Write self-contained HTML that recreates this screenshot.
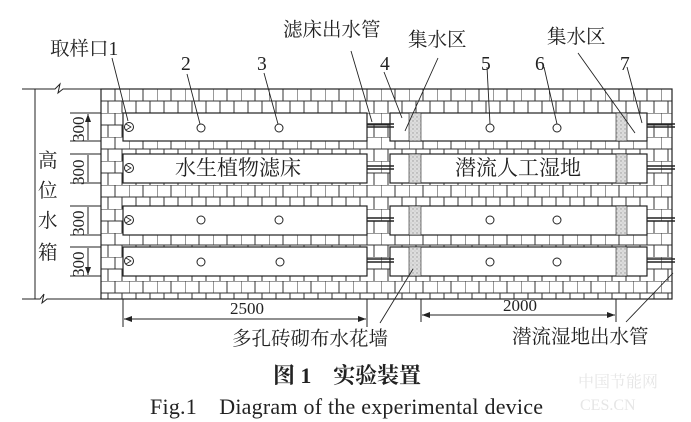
<!DOCTYPE html>
<html><head><meta charset="utf-8"><style>
html,body{margin:0;padding:0;background:#fff;width:691px;height:422px;overflow:hidden}
svg text{font-family:"Liberation Serif","Noto Serif CJK SC",serif;fill:#222}
</style></head><body>
<svg width="691" height="422" viewBox="0 0 691 422" xmlns="http://www.w3.org/2000/svg">
<defs>
<pattern id="br" patternUnits="userSpaceOnUse" x="101" y="89" width="28" height="24">
<rect width="28" height="24" fill="#fff"/>
<path d="M0 0H28M0 12H28M0 0V12M14 0V12M7 12V24M21 12V24" stroke="#333" stroke-width="1" fill="none"/>
</pattern>
<pattern id="gv" patternUnits="userSpaceOnUse" width="4" height="4">
<rect width="4" height="4" fill="#ddd"/><circle cx="1" cy="1" r="0.7" fill="#999"/><circle cx="3" cy="3" r="0.5" fill="#aaa"/>
</pattern>
<marker id="ar" markerWidth="8" markerHeight="6" refX="8" refY="3" orient="auto-start-reverse" markerUnits="userSpaceOnUse"><path d="M0 0L8 3L0 6" fill="#222"/></marker>
</defs>
<g stroke="#222" stroke-width="1.2">
<rect x="101" y="89" width="571" height="210" fill="url(#br)"/>
<g fill="#fff">
<rect x="123" y="113" width="244" height="28"/><rect x="390" y="113" width="257" height="28"/>
<rect x="123" y="154" width="244" height="29"/><rect x="390" y="154" width="257" height="29"/>
<rect x="123" y="206" width="244" height="29"/><rect x="390" y="206" width="257" height="29"/>
<rect x="123" y="247" width="244" height="29"/><rect x="390" y="247" width="257" height="29"/>
</g>
<g fill="url(#gv)" stroke-width="0.6">
<rect x="409" y="113" width="12" height="28"/><rect x="616" y="113" width="11" height="28"/>
<rect x="409" y="154" width="12" height="29"/><rect x="616" y="154" width="11" height="29"/>
<rect x="409" y="206" width="12" height="29"/><rect x="616" y="206" width="11" height="29"/>
<rect x="409" y="247" width="12" height="29"/><rect x="616" y="247" width="11" height="29"/>
</g>
<g stroke-width="1.5">
<path d="M367 124H394M367 127H394M367 166H394M367 169H394M367 218H394M367 221H394M367 259H394M367 262H394"/>
<path d="M647 124H675M647 127H675M647 166H675M647 169H675M647 218H675M647 221H675M647 259H675M647 262H675"/>
</g>
<g fill="#fff" stroke-width="1">
<circle cx="129" cy="127" r="4.5"/><circle cx="129" cy="168" r="4.5"/><circle cx="129" cy="220" r="4.5"/><circle cx="129" cy="261" r="4.5"/>
<circle cx="201" cy="128" r="4"/><circle cx="279" cy="128" r="4"/><circle cx="490" cy="128" r="4"/><circle cx="557" cy="128" r="4"/>
<circle cx="201" cy="220" r="4"/><circle cx="279" cy="220" r="4"/><circle cx="490" cy="220" r="4"/><circle cx="557" cy="220" r="4"/>
<circle cx="201" cy="262" r="4"/><circle cx="280" cy="262" r="4"/><circle cx="490" cy="262" r="4"/><circle cx="557" cy="262" r="4"/>
</g>
<g fill="none" stroke-width="0.8"><path d="M126 124L131 127L126 130M126 165L131 168L126 171M126 217L131 220L126 223M126 258L131 261L126 264"/></g>
<g stroke-width="1" fill="none">
<path d="M22 89H55L60 84L58 93L63 89H101M22 299H40L44 294L42 303L47 299H101"/>
<path d="M35 89V299"/>
<path d="M70 113H101M70 141H101M70 154H101M70 183H101M70 206H101M70 235H101M70 247H101M70 276H101"/>
<path d="M88 114V140M88 155V182M88 207V234M88 248V275" marker-start="url(#ar)" marker-end="url(#ar)"/>
</g>
<g stroke-width="1" fill="none">
<path d="M123 299V327M367 299V327M421 299V322M616 299V322"/>
<path d="M124 319H366" marker-start="url(#ar)" marker-end="url(#ar)"/>
<path d="M422 315H615" marker-start="url(#ar)" marker-end="url(#ar)"/>
</g>
<g stroke-width="0.9" fill="none">
<path d="M112 58L128 121M187 74L200 124M264 73L278 124M351 51L372 122M438 58L405 131M384 72L402 118M487 67L490 124M544 67L557 124M578 53L635 133M627 67L642 123M380 323L413 269M626 322L673 273"/>
</g>
</g>
<g font-size="19.5">
<text x="50" y="55">取样口1</text>
<text x="181" y="70">2</text><text x="257" y="70">3</text>
<text x="283" y="36">滤床出水管</text>
<text x="408" y="46">集水区</text>
<text x="380" y="70">4</text><text x="481" y="70">5</text><text x="535" y="70">6</text><text x="620" y="70">7</text>
<text x="547" y="43">集水区</text>
<text x="175" y="175" font-size="21">水生植物滤床</text>
<text x="455" y="175" font-size="21">潜流人工湿地</text>
<text x="38" y="167">高</text><text x="38" y="197">位</text><text x="38" y="227">水</text><text x="38" y="259">箱</text>
<text x="232" y="345">多孔砖砌布水花墙</text>
<text x="512" y="343">潜流湿地出水管</text>
</g>
<g font-size="17">
<text transform="translate(84,142) rotate(-90)">300</text>
<text transform="translate(84,185) rotate(-90)">300</text>
<text transform="translate(84,236) rotate(-90)">300</text>
<text transform="translate(84,277) rotate(-90)">300</text>
<text x="230" y="314">2500</text>
<text x="503" y="311">2000</text>
</g>
<text x="273" y="383" font-size="22" font-weight="bold" textLength="148">图 1　实验装置</text>
<text x="150" y="414" font-size="22" textLength="393">Fig.1　Diagram of the experimental device</text>
<g font-size="16"><text x="578" y="387" style="fill:#e6e6e6">中国节能网</text><text x="580" y="410" style="fill:#e6e6e6">CES.CN</text></g>
</svg>
</body></html>
